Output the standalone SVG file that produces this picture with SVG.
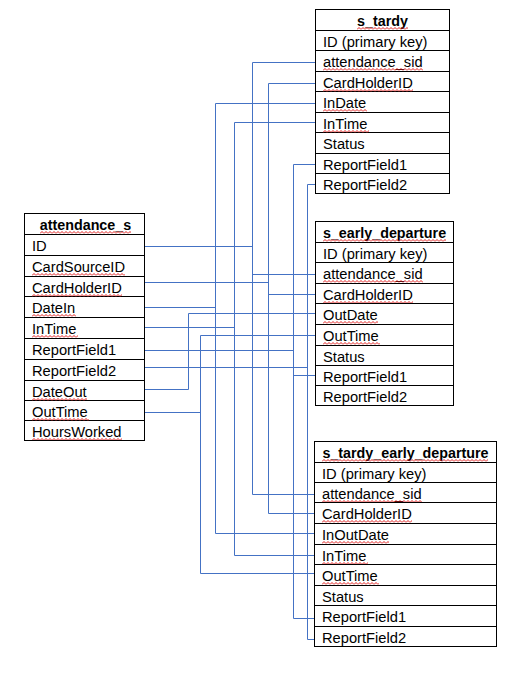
<svg xmlns="http://www.w3.org/2000/svg" width="513" height="677" viewBox="0 0 513 677">
<style>
.box{fill:#fff;stroke:#000;stroke-width:1}
.rl{stroke:#000;stroke-width:1}
.t{font-family:"Liberation Sans",Arial,sans-serif;font-size:14.7px;fill:#000}
.h{font-family:"Liberation Sans",Arial,sans-serif;font-size:14.3px;font-weight:bold;fill:#000;text-anchor:middle}
.c{fill:none;stroke:#4472C4;stroke-width:1}
</style>
<defs>
<pattern id="sq" width="4" height="3" patternUnits="userSpaceOnUse">
<path d="M0 2.5 L2 0.5 L4 2.5" fill="none" stroke="#e01b1b" stroke-width="1"/>
</pattern>
</defs>
<rect width="513" height="677" fill="#fff"/>

<g id="connectors">
<path class="c" d="M144.5 246.5 H252.5 M252.5 62.5 V494.5 M252.5 62.5 H315.5 M252.5 274.5 H315.5 M252.5 494.5 H314.5"/>
<path class="c" d="M144.5 282.5 H268.5 M268.5 83.5 V513.5 M268.5 83.5 H315.5 M268.5 294.5 H315.5 M268.5 513.5 H314.5"/>
<path class="c" d="M144.5 307.5 H215.5 M215.5 103.5 V533.5 M215.5 103.5 H315.5 M215.5 533.5 H314.5"/>
<path class="c" d="M144.5 327.5 H234.5 M234.5 122.5 V555.5 M234.5 122.5 H315.5 M234.5 555.5 H314.5"/>
<path class="c" d="M144.5 350.5 H293.5 M293.5 164.5 V618.5 M293.5 164.5 H315.5 M293.5 375.5 H315.5 M293.5 618.5 H314.5"/>
<path class="c" d="M144.5 367.5 H307.5 M307.5 184.5 V639.5 M307.5 184.5 H315.5 M307.5 639.5 H314.5"/>
<path class="c" d="M144.5 389.5 H188.5 V313.5 H315.5"/>
<path class="c" d="M144.5 412.5 H200.5 M200.5 335.5 V573.5 M200.5 335.5 H315.5 M200.5 573.5 H314.5"/>
</g>

<g id="s_tardy">
<rect class="box" x="315.5" y="9.5" width="134" height="184"/>
<path class="rl" d="M315.5 30.5H449.5M315.5 50.5H449.5M315.5 71.5H449.5M315.5 91.5H449.5M315.5 112.5H449.5M315.5 132.5H449.5M315.5 153.5H449.5M315.5 173.5H449.5"/>
<text class="h" x="382.5" y="26">s_tardy</text>
<text class="t" x="323" y="47">ID (primary key)</text>
<text class="t" x="323" y="67">attendance_sid</text>
<text class="t" x="323" y="88">CardHolderID</text>
<text class="t" x="323" y="108">InDate</text>
<text class="t" x="323" y="129">InTime</text>
<text class="t" x="323" y="149">Status</text>
<text class="t" x="323" y="170">ReportField1</text>
<text class="t" x="323" y="190">ReportField2</text>
<rect transform="translate(357,27)" width="51" height="3" fill="url(#sq)"/>
<rect transform="translate(323,68)" width="100" height="3" fill="url(#sq)"/>
<rect transform="translate(323,89)" width="90" height="3" fill="url(#sq)"/>
<rect transform="translate(323,109)" width="44" height="3" fill="url(#sq)"/>
<rect transform="translate(323,130)" width="46" height="3" fill="url(#sq)"/>
</g>

<g id="attendance_s">
<rect class="box" x="24.5" y="213.5" width="120" height="227"/>
<path class="rl" d="M24.5 234.5H144.5M24.5 255.5H144.5M24.5 276.5H144.5M24.5 296.5H144.5M24.5 317.5H144.5M24.5 338.5H144.5M24.5 359.5H144.5M24.5 380.5H144.5M24.5 400.5H144.5M24.5 420.5H144.5"/>
<text class="h" x="85.5" y="230">attendance_s</text>
<text class="t" x="32" y="251">ID</text>
<text class="t" x="32" y="272">CardSourceID</text>
<text class="t" x="32" y="293">CardHolderID</text>
<text class="t" x="32" y="313">DateIn</text>
<text class="t" x="32" y="334">InTime</text>
<text class="t" x="32" y="355">ReportField1</text>
<text class="t" x="32" y="376">ReportField2</text>
<text class="t" x="32" y="397">DateOut</text>
<text class="t" x="32" y="417">OutTime</text>
<text class="t" x="32" y="437">HoursWorked</text>
<rect transform="translate(40,231)" width="91" height="3" fill="url(#sq)"/>
<rect transform="translate(32,273)" width="93" height="3" fill="url(#sq)"/>
<rect transform="translate(32,294)" width="90" height="3" fill="url(#sq)"/>
<rect transform="translate(32,314)" width="44" height="3" fill="url(#sq)"/>
<rect transform="translate(32,335)" width="46" height="3" fill="url(#sq)"/>
<rect transform="translate(32,398)" width="55" height="3" fill="url(#sq)"/>
<rect transform="translate(32,418)" width="57" height="3" fill="url(#sq)"/>
<rect transform="translate(32,438)" width="90" height="2" fill="url(#sq)"/>
</g>

<g id="s_early_departure">
<rect class="box" x="315.5" y="221.5" width="138" height="184"/>
<path class="rl" d="M315.5 242.5H453.5M315.5 262.5H453.5M315.5 283.5H453.5M315.5 303.5H453.5M315.5 324.5H453.5M315.5 345.5H453.5M315.5 365.5H453.5M315.5 385.5H453.5"/>
<text class="h" x="384.5" y="238">s_early_departure</text>
<text class="t" x="323" y="259">ID (primary key)</text>
<text class="t" x="323" y="279">attendance_sid</text>
<text class="t" x="323" y="300">CardHolderID</text>
<text class="t" x="323" y="320">OutDate</text>
<text class="t" x="323" y="341">OutTime</text>
<text class="t" x="323" y="362">Status</text>
<text class="t" x="323" y="382">ReportField1</text>
<text class="t" x="323" y="402">ReportField2</text>
<rect transform="translate(323,239)" width="123" height="3" fill="url(#sq)"/>
<rect transform="translate(323,280)" width="100" height="3" fill="url(#sq)"/>
<rect transform="translate(323,301)" width="90" height="2" fill="url(#sq)"/>
<rect transform="translate(323,321)" width="55" height="3" fill="url(#sq)"/>
<rect transform="translate(323,342)" width="57" height="3" fill="url(#sq)"/>
</g>

<g id="s_tardy_early_departure">
<rect class="box" x="314.5" y="441.5" width="182" height="205"/>
<path class="rl" d="M314.5 462.5H496.5M314.5 482.5H496.5M314.5 502.5H496.5M314.5 523.5H496.5M314.5 544.5H496.5M314.5 564.5H496.5M314.5 585.5H496.5M314.5 605.5H496.5M314.5 626.5H496.5"/>
<text class="h" x="405.5" y="458">s_tardy_early_departure</text>
<text class="t" x="322" y="479">ID (primary key)</text>
<text class="t" x="322" y="499">attendance_sid</text>
<text class="t" x="322" y="519">CardHolderID</text>
<text class="t" x="322" y="540">InOutDate</text>
<text class="t" x="322" y="561">InTime</text>
<text class="t" x="322" y="581">OutTime</text>
<text class="t" x="322" y="602">Status</text>
<text class="t" x="322" y="622">ReportField1</text>
<text class="t" x="322" y="643">ReportField2</text>
<rect transform="translate(322,459)" width="166" height="3" fill="url(#sq)"/>
<rect transform="translate(322,500)" width="100" height="2" fill="url(#sq)"/>
<rect transform="translate(322,520)" width="90" height="3" fill="url(#sq)"/>
<rect transform="translate(322,541)" width="67" height="3" fill="url(#sq)"/>
<rect transform="translate(322,562)" width="46" height="2" fill="url(#sq)"/>
<rect transform="translate(322,582)" width="57" height="3" fill="url(#sq)"/>
</g>
</svg>
